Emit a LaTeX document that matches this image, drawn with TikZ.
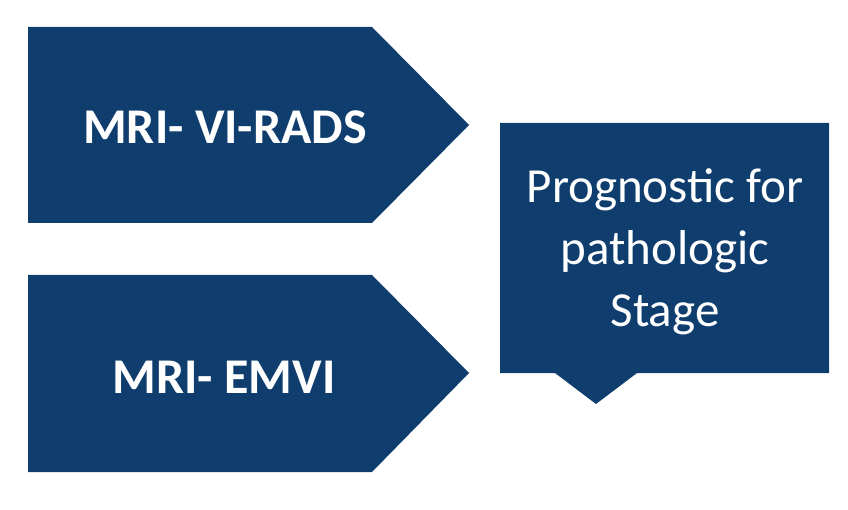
\documentclass[tikz,border=0pt]{standalone}
\usepackage{fontspec}
\setmainfont{Carlito}
\usepackage{tikz}
\usetikzlibrary{positioning,calc}
\definecolor{navy}{HTML}{0F3D6E}

\begin{document}
\begin{tikzpicture}[
  x=1pt, y=-1pt,
  shape fill/.style={fill=navy},
  boldlbl/.style={text=white, font=\bfseries\fontsize{50}{60}\selectfont, inner sep=0pt},
  plainlbl/.style={text=white, font=\fontsize{49}{62}\selectfont, align=center, inner sep=0pt}
]
\useasboundingbox (0,0) rectangle (848,510);

% Input arrows
\fill[shape fill] (28,27) -- (372,27) -- (469,125) -- (372,223) -- (28,223) -- cycle;
\fill[shape fill] (28,275) -- (372,275) -- (469,373) -- (372,472) -- (28,472) -- cycle;

% Callout box with pointer
\fill[shape fill] (500,123) -- (829,123) -- (829,373) -- (637,373) -- (596,404)
  -- (555,373) -- (500,373) -- cycle;

\node[boldlbl] (virads) at (225,127) {MRI- VI-RADS};
\node[boldlbl] (emvi) at (224,377) {MRI- EMVI};
\node[plainlbl] (stage) at (665,252) {Prognostic for\\pathologic\\Stage};
\end{tikzpicture}
\end{document}
